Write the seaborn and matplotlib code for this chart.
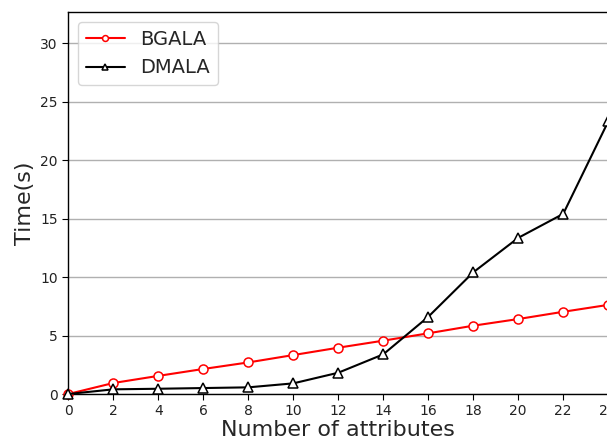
import matplotlib
matplotlib.use("Agg")
import matplotlib.pyplot as plt
import seaborn as sns
import numpy as np

sns.set_style("ticks")
plt.rcParams['font.family'] = ['DejaVu Sans']

attributes = [0, 2, 4, 6, 8, 10, 12, 14, 16, 18, 20, 22, 24]
bgala = [0.0, 0.94, 1.55, 2.14, 2.7, 3.33, 3.96, 4.56, 5.19, 5.84, 6.41, 7.03, 7.62]
dmala = [0.0, 0.4, 0.45, 0.51, 0.57, 0.91, 1.82, 3.39, 6.6, 10.4, 13.35, 15.4, 23.3]
xticks = [0, 2, 4, 6, 8, 10, 12, 14, 16, 18, 20, 22, 24]
yticks = [0, 5, 10, 15, 20, 25, 30]

fig = plt.figure(figsize=(6.07, 4.48), dpi=100)
ax = fig.add_axes([0.1125, 0.1205, 0.8895, 0.8525])

sns.lineplot(x=attributes, y=bgala, ax=ax, color='red', marker='o', markersize=6.5,
             markerfacecolor='white', markeredgecolor='red', markeredgewidth=1.1,
             linewidth=1.5, label='BGALA', clip_on=False, zorder=3)
sns.lineplot(x=attributes, y=dmala, ax=ax, color='black', marker='^', markersize=6.5,
             markerfacecolor='white', markeredgecolor='black', markeredgewidth=1.1,
             linewidth=1.5, label='DMALA', clip_on=False, zorder=3)

ax.set_xlim(0, 24)
ax.set_ylim(0, 32.65)
ax.set_xticks(xticks)
ax.set_yticks(yticks)
ax.yaxis.grid(True, color='#b0b0b0', linewidth=1.0)
ax.xaxis.grid(False)
ax.set_axisbelow(True)
for s in ax.spines.values():
    s.set_color('black')
    s.set_linewidth(1.0)
ax.tick_params(axis='both', labelsize=10, colors='#222222', length=4, direction='out')
ax.tick_params(axis='both', color='black')
ax.set_xlabel('Number of attributes', fontsize=16, labelpad=1)
ax.set_ylabel('Time(s)', fontsize=16)
leg = ax.legend(loc='upper left', fontsize=14, frameon=True, handlelength=2,
                borderaxespad=0.5, markerscale=0.65)
leg.get_frame().set_edgecolor('#cccccc')

fig.savefig('out.png', dpi=100)
